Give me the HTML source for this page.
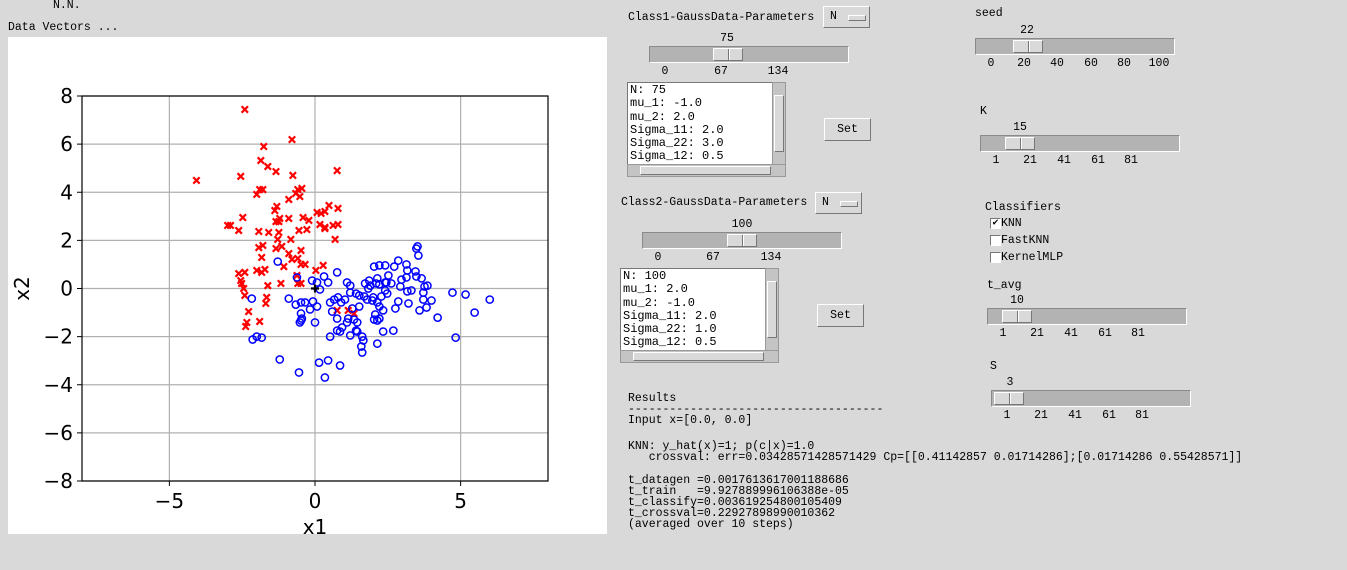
<!DOCTYPE html>
<html><head><meta charset="utf-8">
<style>
html,body{margin:0;padding:0;}
body{width:1347px;height:570px;background:#d9d9d9;position:relative;overflow:hidden;font-family:"Liberation Mono","DejaVu Sans Mono",monospace;font-size:11.5px;color:#000;}
.t{position:absolute;white-space:pre;line-height:11px;}
.trough{position:absolute;background:#b3b3b3;border-top:1px solid #8a8a8a;border-left:1px solid #8a8a8a;border-bottom:1px solid #fff;border-right:1px solid #fff;box-sizing:border-box;}
.thumb{position:absolute;top:1px;bottom:1px;background:#d9d9d9;border:1px solid;border-color:#fff #777 #777 #fff;box-sizing:border-box;}
.thumb:after{content:"";position:absolute;left:50%;top:0;bottom:0;border-left:1px solid #777;border-right:1px solid #fff;}
.btn{position:absolute;background:#d9d9d9;border:1px solid;border-color:#fff #777 #777 #fff;box-sizing:border-box;text-align:center;}
.tbox{position:absolute;background:#fff;border:1px solid #777;box-sizing:border-box;padding:1px 2px;font-size:12px;line-height:13.3px;white-space:pre;overflow:hidden;}
.sb{position:absolute;background:#c4c4c4;border:1px solid #999;box-sizing:border-box;}
.cb{position:absolute;width:11px;height:11px;background:#fff;border:1px solid;border-color:#777 #fff #fff #777;box-sizing:border-box;font-size:10px;line-height:9px;text-align:center;}
</style></head><body>
<div class="t" style="left:53px;top:0px">N.N.</div>
<div class="t" style="left:8px;top:22px">Data Vectors ...</div>
<svg style="position:absolute;left:0;top:0" width="1347" height="570">
<rect x="8" y="37" width="599" height="497" fill="#fff"/>
<g id="grid"></g><g id="marks"></g><g id="axes"></g>
</svg>

<div id="ui"></div>

<script>
const xTicks=[-5,0,5];
const yTicks=[-8,-6,-4,-2,0,2,4,6,8];
const redX=[-2.41,-0.79,-1.76,-1.86,-1.62,-2.55,-1.34,0.76,-4.07,-0.76,-1.90,-2.00,-1.79,-0.59,-0.45,-1.31,-1.38,-0.66,-0.52,-0.90,0.48,0.79,0.07,0.34,0.21,-2.48,-1.21,-3.00,-2.90,-1.34,-1.24,-0.90,-0.41,-0.21,0.17,0.34,0.62,0.79,-2.62,-1.93,-1.59,-0.55,-0.28,0.34,-1.79,-1.93,-1.14,-1.28,0.69,-1.24,-0.83,-1.34,-0.48,-1.83,-0.79,-0.59,-0.34,-2.62,-2.00,-1.72,-2.41,-2.55,-2.52,-1.83,-1.07,-0.90,-0.48,-1.62,-2.45,-0.62,-1.17,-0.59,-2.41,-1.66,-1.69,-2.34,-2.38,-1.90,-2.28,0.28,0.03,1.14,1.34,0.76,-0.48];
const redY=[7.44,6.19,5.90,5.32,5.07,4.66,4.86,4.90,4.49,4.70,4.11,3.91,4.11,4.11,4.16,3.41,3.24,3.95,3.82,3.70,3.45,3.33,3.16,3.20,3.12,2.95,2.91,2.62,2.62,2.78,2.78,2.91,2.95,2.83,2.66,2.54,2.62,2.66,2.41,2.37,2.33,2.41,2.45,2.49,1.79,1.70,1.75,2.04,2.04,2.33,2.04,1.66,1.58,1.29,1.21,1.25,1.00,0.62,0.75,0.79,0.67,0.33,0.21,0.67,0.91,1.45,1.00,0.12,0.00,0.54,0.21,0.21,-0.29,-0.37,-0.62,-1.41,-1.58,-1.37,-0.96,0.96,0.75,-0.91,-1.04,-0.91,0.21];
const blueX=[-1.28,-0.62,-0.10,0.17,0.45,0.76,0.31,0.07,-0.90,-0.66,-0.48,-0.34,-0.07,-0.48,-0.45,-0.17,0.07,-2.17,-2.00,-2.14,-1.21,-0.48,-0.52,0.00,-1.83,-0.55,0.14,0.45,0.34,0.86,1.03,0.90,0.52,0.59,0.66,1.21,0.79,1.28,1.34,0.52,0.86,0.93,0.76,1.14,1.45,1.52,1.45,1.21,1.10,1.79,1.97,2.03,2.21,2.07,2.34,1.83,1.86,1.90,2.10,2.21,2.14,1.72,1.69,2.28,2.00,2.14,2.41,2.41,2.21,2.14,2.45,2.48,2.76,2.69,2.34,2.14,1.66,1.62,1.59,1.62,1.41,0.76,2.93,2.86,3.14,2.86,2.72,2.52,2.62,3.17,3.48,3.52,3.55,3.45,3.48,3.14,2.97,3.21,3.17,3.66,3.72,3.86,4.00,3.83,3.31,3.59,3.72,4.21,4.72,5.17,5.48,6.00,4.83,3.76,2.21,2.41,2.03,1.10,1.21,1.41,1.52];
const blueY=[1.12,0.46,0.33,-0.04,0.25,0.67,0.50,0.25,-0.42,-0.67,-0.58,-0.58,-0.54,-1.04,-1.25,-0.87,-0.75,-0.42,-2.00,-2.12,-2.95,-1.33,-1.41,-1.41,-2.04,-3.49,-3.08,-2.99,-3.70,-3.20,-0.46,-0.58,-0.58,-0.96,-0.46,-0.17,-0.37,-0.83,-1.29,-2.00,-1.79,-1.62,-1.25,-1.25,-1.41,-0.75,-1.79,-1.95,-1.41,-0.46,-0.50,-1.29,-1.25,-1.08,-0.91,0.00,0.33,0.12,0.21,0.17,0.42,0.21,-0.33,-0.33,-0.37,-0.58,-0.08,0.25,-0.75,-1.33,0.25,-0.21,-0.83,-1.75,-1.79,-2.29,-2.16,-2.00,-2.41,-2.66,-1.75,-1.75,0.08,-0.54,1.00,1.16,0.91,0.54,0.21,0.75,1.66,1.75,1.37,0.71,0.50,0.46,0.37,-0.62,-0.12,0.42,-0.17,0.12,-0.50,-0.79,-0.08,-0.91,-0.46,-1.21,-0.17,-0.25,-1.00,-0.46,-2.04,0.08,0.96,0.96,0.91,0.25,0.12,-0.21,-0.29];
const queryPoint=[0.0,0.0];

const L=82,R=548,T=96,B=481,XMIN=-8,XMAX=8,YMIN=-8,YMAX=8;
function sx(v){return L+(v-XMIN)/(XMAX-XMIN)*(R-L);}
function sy(v){return B-(v-YMIN)/(YMAX-YMIN)*(B-T);}
const NS="http://www.w3.org/2000/svg";
function mk(tag,attrs,parent){const e=document.createElementNS(NS,tag);for(const k in attrs)e.setAttribute(k,attrs[k]);parent.appendChild(e);return e;}
const grid=document.getElementById('grid'),marks=document.getElementById('marks'),axes=document.getElementById('axes');
xTicks.forEach(v=>{
  const g=mk('line',{x1:sx(v),x2:sx(v),y1:T,y2:B,stroke:'#b0b0b0','stroke-width':1.2},grid);
  
  
  mk('line',{x1:sx(v),x2:sx(v),y1:B,y2:B+5,stroke:'#000','stroke-width':1},axes);
  const t=mk('text',{x:sx(v),y:B+27,'text-anchor':'middle','font-family':'DejaVu Sans, Liberation Sans, sans-serif','font-size':20},axes);
  t.textContent=v<0?'\u2212'+(-v):String(v);
  
  
});
yTicks.forEach(v=>{
  const g=mk('line',{x1:L,x2:R,y1:sy(v),y2:sy(v),stroke:'#b0b0b0','stroke-width':1.2},grid);
  
  
  mk('line',{x1:L-5,x2:L,y1:sy(v),y2:sy(v),stroke:'#000','stroke-width':1},axes);
  const t=mk('text',{x:L-9,y:sy(v)+7,'text-anchor':'end','font-family':'DejaVu Sans, Liberation Sans, sans-serif','font-size':20},axes);
  t.textContent=v<0?'\u2212'+(-v):String(v);
  
  
});
const frame=mk('rect',{x:L,y:T,width:R-L,height:B-T,fill:'none',stroke:'#000','stroke-width':1.2},axes);


const xl=mk('text',{x:(L+R)/2,y:534,'text-anchor':'middle','font-family':'DejaVu Sans, Liberation Sans, sans-serif','font-size':20},axes);
xl.textContent='x1';


const yl=mk('text',{x:0,y:0,'text-anchor':'middle','font-family':'DejaVu Sans, Liberation Sans, sans-serif','font-size':20,transform:'translate(29,'+((T+B)/2)+') rotate(-90)'},axes);
yl.textContent='x2';


redX.forEach((v,i)=>{
  const cx=sx(v),cy=sy(redY[i]),d=3.2;
  const p=mk('path',{d:`M${cx-d},${cy-d}L${cx+d},${cy+d}M${cx-d},${cy+d}L${cx+d},${cy-d}`,stroke:'#f00','stroke-width':2.2,fill:'none'},marks);
  
  
});
blueX.forEach((v,i)=>{
  const c=mk('circle',{cx:sx(v),cy:sy(blueY[i]),r:3.6,stroke:'#00f','stroke-width':1.5,fill:'none'},marks);
  
  
});
{const cx=sx(queryPoint[0]),cy=sy(queryPoint[1]);
const q=mk('path',{d:`M${cx-4},${cy}L${cx+4},${cy}M${cx},${cy-4}L${cx},${cy+4}`,stroke:'#000','stroke-width':2.2},marks);

}

const ui=document.getElementById('ui');
function div(cls,style,text,parent){const e=document.createElement('div');e.className=cls;e.style.cssText=style;if(text!=null)e.textContent=text;(parent||ui).appendChild(e);return e;}
function slider(name,x,y,w,thumbX,val,valX,ticks,tickXs){
  const tr=div('trough',`left:${x}px;top:${y}px;width:${w}px;height:17px`);
  
  
  const th=div('thumb',`left:${thumbX-x-1}px;width:30px`,null,tr);
  
  
  const v=div('t',`left:${valX}px;top:${y-13}px;transform:translateX(-50%)`,val);
  
  
  ticks.forEach((tk,i)=>{
    const e=div('t',`left:${tickXs[i]}px;top:${y+20}px;transform:translateX(-50%)`,tk);
    
    
  });
}
function label(name,x,y,text){const e=div('t',`left:${x}px;top:${y}px`,text);
  
  return e;}
function button(name,x,y,w,h,text){const e=div('btn',`left:${x}px;top:${y}px;width:${w}px;height:${h}px;line-height:${h-2}px`,text);
  
  return e;}
function menu(name,x,y){const e=button(name,x,y,47,22,'');
  e.innerHTML='<span style="position:absolute;left:6px;top:0">N</span><span style="position:absolute;left:24px;top:8px;width:16px;height:4px;border:1px solid;border-color:#fff #777 #777 #fff;background:#d9d9d9"></span>';
  return e;}
function textbox(name,x,y,text){
  const tb=div('tbox',`left:${x}px;top:${y}px;width:146px;height:83px`,text);
  
  
  const vs=div('sb',`left:${x+145}px;top:${y}px;width:14px;height:83px`);
  
  
  div('','position:absolute;left:1px;right:1px;top:12px;bottom:12px;background:#d9d9d9;border:1px solid;border-color:#fff #777 #777 #fff',null,vs);
  const hs=div('sb',`left:${x}px;top:${y+82}px;width:159px;height:13px`);
  
  
  div('','position:absolute;left:12px;right:14px;top:1px;bottom:1px;background:#d9d9d9;border:1px solid;border-color:#fff #777 #777 #fff',null,hs);
}
label('class1-params-label',628,12,'Class1-GaussData-Parameters');
menu('class1-param-menu',823,6);
slider('class1-n',649,46,200,713,'75',727,['0','67','134'],[665,721,778]);
textbox('class1-params-text',627,82,'N: 75\nmu_1: -1.0\nmu_2: 2.0\nSigma_11: 2.0\nSigma_22: 3.0\nSigma_12: 0.5');
button('class1-set-button',824,118,47,23,'Set');

label('class2-params-label',621,197,'Class2-GaussData-Parameters');
menu('class2-param-menu',815,192);
slider('class2-n',642,232,200,727,'100',742,['0','67','134'],[658,713,771]);
textbox('class2-params-text',620,268,'N: 100\nmu_1: 2.0\nmu_2: -1.0\nSigma_11: 2.0\nSigma_22: 1.0\nSigma_12: 0.5');
button('class2-set-button',817,304,47,23,'Set');

label('results-text',628,393,'Results\n-------------------------------------\nInput x=[0.0, 0.0]');
label('knn-results',628,441,'KNN: y_hat(x)=1; p(c|x)=1.0\n   crossval: err=0.03428571428571429 Cp=[[0.41142857 0.01714286];[0.01714286 0.55428571]]');
label('timing-results',628,475,'t_datagen =0.0017613617001188686\nt_train   =9.927889996106388e-05\nt_classify=0.003619254800105409\nt_crossval=0.22927898990010362\n(averaged over 10 steps)');

label('seed-label',975,8,'seed');
slider('seed',975,38,200,1013,'22',1027,['0','20','40','60','80','100'],[991,1024,1057,1091,1124,1159]);
label('k-label',980,106,'K');
slider('k',980,135,200,1005,'15',1020,['1','21','41','61','81'],[996,1030,1064,1098,1131]);
label('classifiers-label',985,202,'Classifiers');
[['knn','KNN',true,218],['fastknn','FastKNN',false,235],['kernelmlp','KernelMLP',false,252]].forEach(c=>{
  const b=div('cb',`left:990px;top:${c[3]}px`,c[2]?'\u2714':'');
  
  
  const l=div('t',`left:1001px;top:${c[3]}px`,c[1]);
  
  
});
label('t-avg-label',987,280,'t_avg');
slider('t-avg',987,308,200,1002,'10',1017,['1','21','41','61','81'],[1003,1037,1071,1105,1138]);
label('s-label',990,361,'S');
slider('s',991,390,200,994,'3',1010,['1','21','41','61','81'],[1007,1041,1075,1109,1142]);
</script>
</body></html>
